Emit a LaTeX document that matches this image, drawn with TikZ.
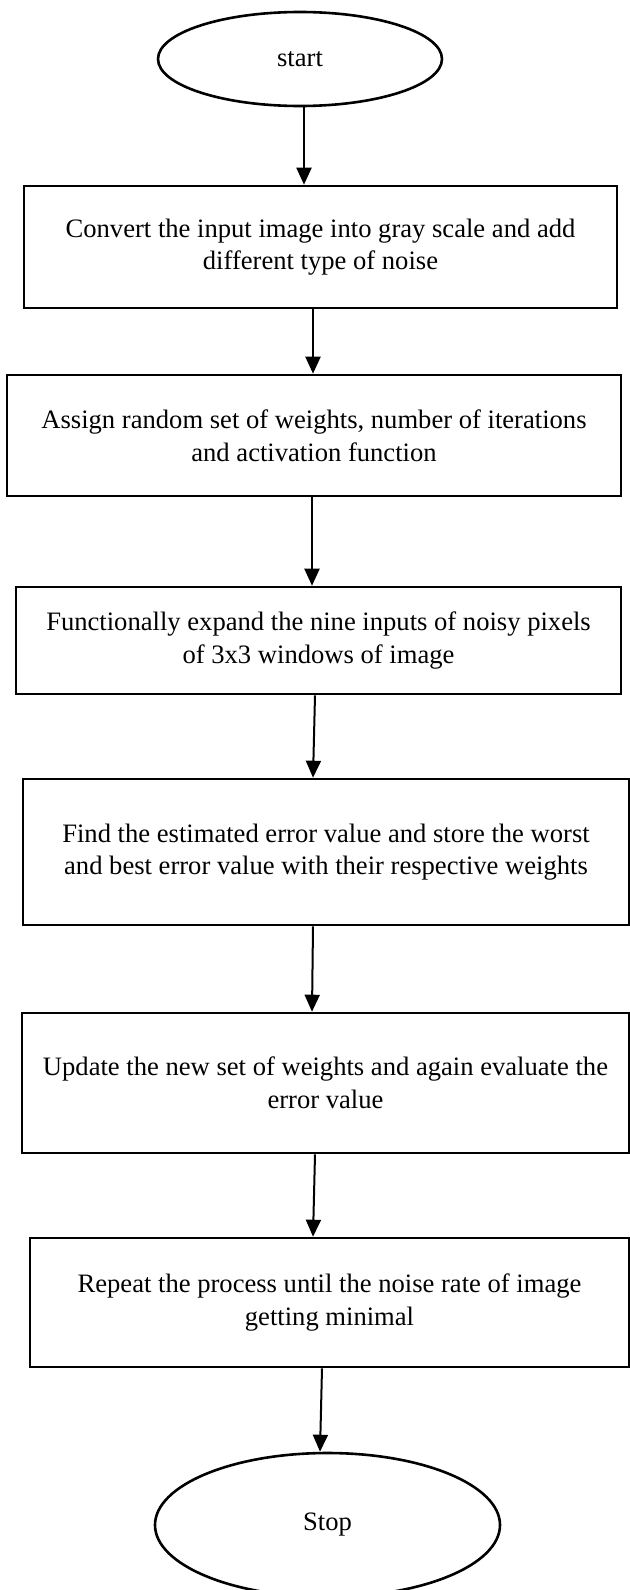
\documentclass[tikz,border=0pt]{standalone}
\usepackage{fontspec}
\setmainfont{Liberation Serif}
\usetikzlibrary{arrows.meta,shapes.geometric}
\tikzset{
  stepbox/.style = {rectangle, draw, line width=1.3pt, align=center, inner sep=0pt,
                    font=\fontsize{13.3}{16.3}\selectfont},
  terminal/.style = {ellipse, draw, line width=1.3pt, inner sep=0pt,
                     font=\fontsize{13.3}{16.3}\selectfont},
  flow/.style = {-{Triangle[width=7.5pt,length=8.5pt]}, line width=1pt},
}

\begin{document}
\begin{tikzpicture}[x=0.5pt,y=-0.5pt]
\useasboundingbox (0,0) rectangle (629,1590);

% begin and end
\node[terminal, minimum width=142pt, minimum height=47pt] (start) at (300,59) {start};
\node[terminal, minimum width=172.5pt, minimum height=72pt] (stop) at (327.5,1525) {Stop};

% processing steps
\node[stepbox, minimum width=296.5pt, minimum height=61pt] (convert) at (320.5,247)
  {Convert the input image into gray scale and add\\different type of noise};
\node[stepbox, minimum width=307pt, minimum height=60.5pt] (assign) at (314,435.5)
  {Assign random set of weights, number of iterations\\and activation function};
\node[stepbox, minimum width=302.5pt, minimum height=53.5pt] (expand) at (318.5,640.5)
  {Functionally expand the nine inputs of noisy pixels\\of 3x3 windows of image};
\node[stepbox, minimum width=303pt, minimum height=73pt] (error) at (326,852)
  {Find the estimated error value and store the worst\\and best error value with their respective weights};
\node[stepbox, minimum width=303.5pt, minimum height=70pt] (update) at (325.5,1083)
  {Update the new set of weights and again evaluate the\\error value};
\node[stepbox, minimum width=299.5pt, minimum height=64.5pt] (repeat) at (329.5,1302.5)
  {Repeat the process until the noise rate of image\\getting minimal};

% arrows
\draw[flow] ([xshift=2pt]start.south) -- ([xshift=-8.25pt]convert.north);
\draw[flow] ([xshift=-3.75pt]convert.south) -- ([xshift=-0.5pt]assign.north);
\draw[flow] ([xshift=-1pt]assign.south) -- ([xshift=-3.25pt]expand.north);
\draw[flow] ([xshift=-1.75pt]expand.south) -- ([xshift=-6.5pt]error.north);
\draw[flow] ([xshift=-6.5pt]error.south) -- ([xshift=-6.75pt]update.north);
\draw[flow] ([xshift=-5.25pt]update.south) -- ([xshift=-8.25pt]repeat.north);
\draw[flow] ([xshift=-3.75pt]repeat.south) -- ([xshift=-3.75pt]stop.north);

\end{tikzpicture}
\end{document}
